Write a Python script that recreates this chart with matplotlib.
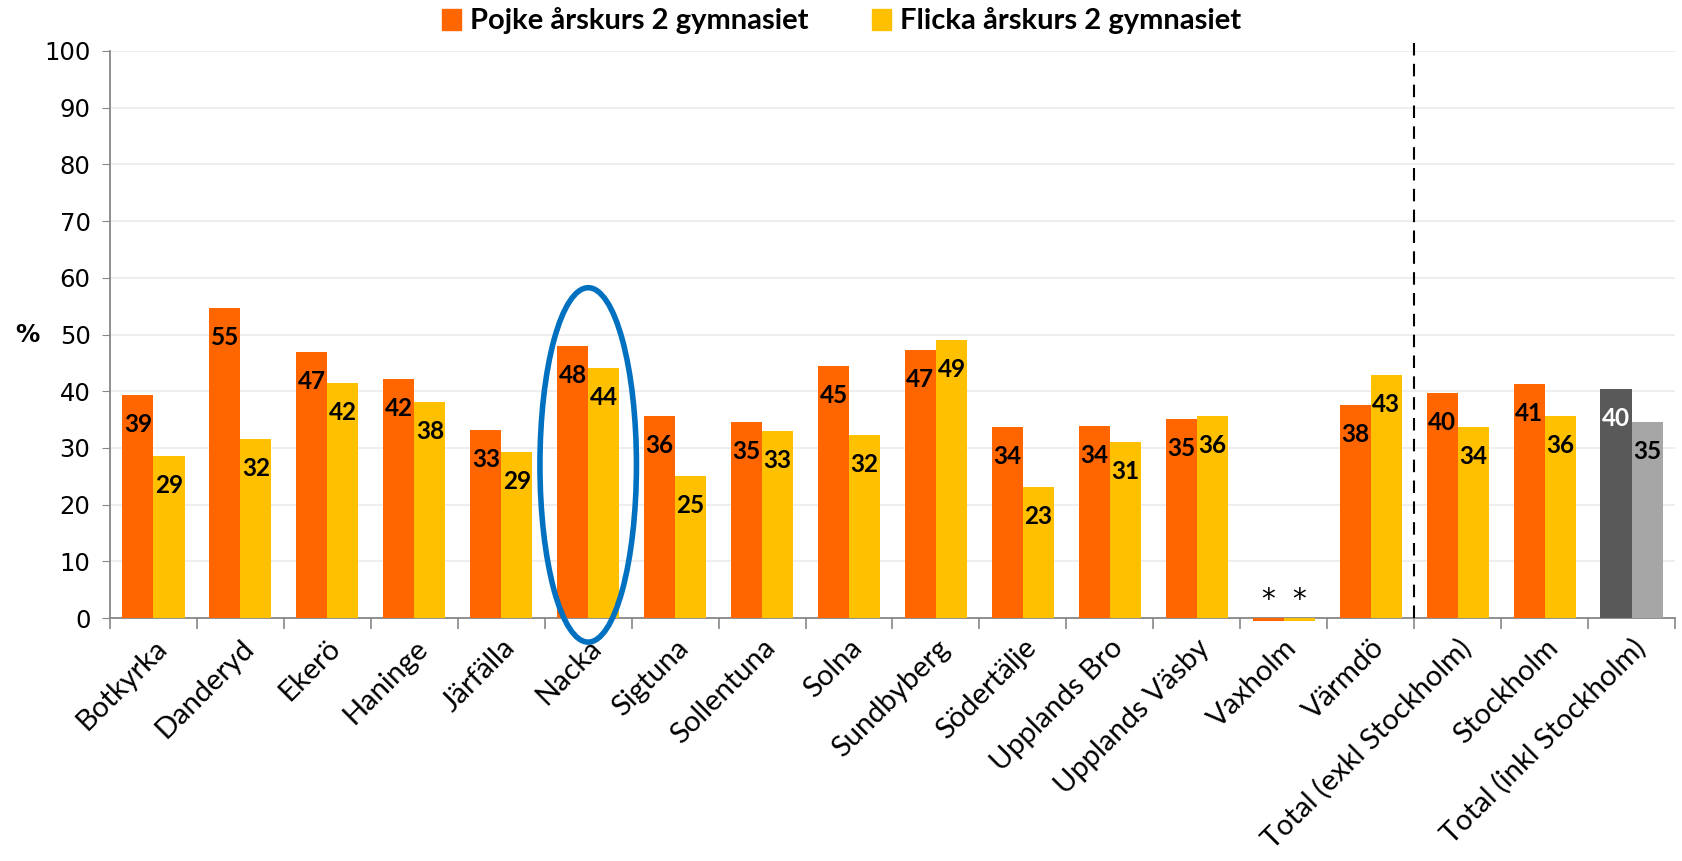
import matplotlib
matplotlib.use("Agg")
import matplotlib.pyplot as plt
import numpy as np
from matplotlib.patches import Ellipse, Patch

categories = ["Botkyrka", "Danderyd", "Ekerö", "Haninge", "Järfälla", "Nacka", "Sigtuna",
              "Sollentuna", "Solna", "Sundbyberg", "Södertälje", "Upplands Bro",
              "Upplands Väsby", "Vaxholm", "Värmdö", "Total (exkl Stockholm)",
              "Stockholm", "Total (inkl Stockholm)"]
pojke = [39.3, 54.6, 46.9, 42.2, 33.1, 47.9, 35.6, 34.5, 44.5, 47.2, 33.7, 33.9, 35.1, -0.5, 37.5, 39.7, 41.2, 40.4]
flicka = [28.6, 31.6, 41.5, 38.1, 29.3, 44.1, 25.0, 32.9, 32.2, 49.1, 23.1, 31.1, 35.6, -0.5, 42.8, 33.6, 35.7, 34.6]
pojke_labels = ["39", "55", "47", "42", "33", "48", "36", "35", "45", "47", "34", "34", "35", "*", "38", "40", "41", "40"]
flicka_labels = ["29", "32", "42", "38", "29", "44", "25", "33", "32", "49", "23", "31", "36", "*", "43", "34", "36", "35"]
legend_labels = ["Pojke årskurs 2 gymnasiet", "Flicka årskurs 2 gymnasiet"]

ORANGE = "#FF6600"
YELLOW = "#FFC000"
DARK = "#595959"
LIGHT = "#A6A6A6"

plt.rcParams['font.family'] = ['Lato', 'DejaVu Sans']

fig = plt.figure(figsize=(16.83, 8.61), dpi=100)
ax = fig.add_axes([110/1683, 1 - 618/861, (1675-110)/1683, (618-51)/861])

n = len(categories)
x = np.arange(n)
w = 0.357
c1 = [ORANGE]*(n-1) + [DARK]
c2 = [YELLOW]*(n-1) + [LIGHT]
bars1 = ax.bar(x - w/2, pojke, w, color=c1, zorder=3)
bars2 = ax.bar(x + w/2, flicka, w, color=c2, zorder=3)
for b in list(bars1) + list(bars2):
    b.set_clip_on(False)

for i in range(n):
    for xv, val, lab, col in [(x[i]-w/2, pojke[i], pojke_labels[i], 'white' if i == n-1 else 'black'),
                              (x[i]+w/2, flicka[i], flicka_labels[i], 'black')]:
        if lab == "*":
            ax.text(xv, 3.2, lab, ha='center', va='center', fontsize=20, color='black',
                    family='DejaVu Sans', zorder=5)
        else:
            ax.text(xv, val - 5.2, lab, ha='center', va='center', fontsize=17.5,
                    fontweight='bold', color=col, zorder=5)

ax.set_xlim(-0.5, n - 0.5)
ax.set_ylim(0, 100)
ax.set_yticks(np.arange(0, 101, 10))
ax.yaxis.grid(True, color='#EBEBEB', linewidth=1.2, zorder=0)
ax.set_axisbelow(True)
ax.tick_params(axis='y', labelsize=17.5, length=6, color='#878787', pad=8)
for t in ax.get_yticklabels():
    t.set_family('DejaVu Sans')

ax.set_xticks(x)
ax.set_xticklabels(categories, rotation=45, ha='right', rotation_mode='anchor', fontsize=21)
ax.tick_params(axis='x', which='major', length=0, pad=12)
ax.set_xticks(np.arange(-0.5, n, 1), minor=True)
ax.tick_params(axis='x', which='minor', length=8, color='#878787', width=1.2)

for s in ['top', 'right']:
    ax.spines[s].set_visible(False)
for s in ['left', 'bottom']:
    ax.spines[s].set_color('#878787')
    ax.spines[s].set_linewidth(1.3)

ax.set_ylabel('%', rotation=0, fontsize=17.5, fontweight='bold', family='DejaVu Sans', va='center')
ax.yaxis.set_label_coords(-0.053, 0.5)

ax.plot([14.5, 14.5], [0, 102.5], color='black', linestyle=(0, (6, 4)), linewidth=1.5,
        clip_on=False, zorder=4)

ell = Ellipse((5.0, 27.0), 1.11, 62.5, fill=False, edgecolor='#0070C0', linewidth=4,
              clip_on=False, zorder=6)
ax.add_patch(ell)

handles = [Patch(color=ORANGE), Patch(color=YELLOW)]
fig.legend(handles, legend_labels, loc='center', bbox_to_anchor=(0.5, 1 - 21/861), ncol=2,
           frameon=False, prop={'size': 21, 'weight': 'bold'}, handlelength=0.65,
           handleheight=0.75, handletextpad=0.3, columnspacing=2.2)

fig.savefig("out.png", dpi=100)
